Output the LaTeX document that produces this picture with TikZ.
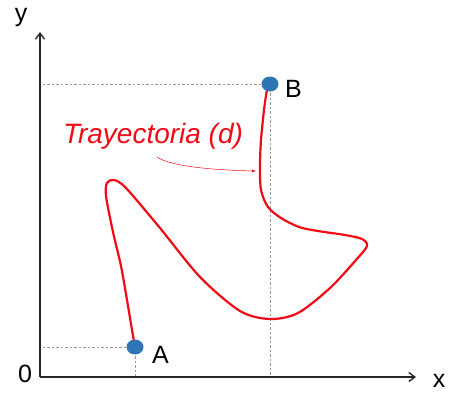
\documentclass[tikz,border=0pt]{standalone}
\usepackage{fontspec}
\setmainfont{Liberation Sans}
\usetikzlibrary{arrows.meta,shapes.geometric}
\definecolor{dotblue}{RGB}{46,117,182}
\definecolor{curvered}{RGB}{240,10,20}
\begin{document}
\begin{tikzpicture}[x=1pt,y=-1pt,
  axis/.style={line width=1.6pt,color=black!85,-{Straight Barb[length=6pt,width=9pt,line width=1.4pt]}},
  guide/.style={gray!80,line width=0.7pt,dash pattern=on 2.5pt off 2pt},
  pathline/.style={curvered,line width=2.2pt,line join=round,line cap=round},
  pointdot/.style={ellipse,fill=dotblue,minimum width=17pt,minimum height=15pt,inner sep=0pt},
  lbl/.style={font=\fontsize{25}{25}\selectfont,inner sep=0pt},
  pointer/.style={curvered,line width=0.5pt,-{Latex[length=4pt,width=3pt]}}]
\useasboundingbox (0,0) rectangle (454,392);
\coordinate (O) at (40,377);
\coordinate (ytip) at (40,32);
\coordinate (xtip) at (416,377);
\coordinate (pa) at (135,347);
\coordinate (pb) at (270,84);
\coordinate (hit) at (256,171);
% guides
\draw[guide] (pa) -- (pa -| O);
\draw[guide] (pa) -- (pa |- O);
\draw[guide] (pb) -- (pb -| O);
\draw[guide] (pb) -- (pb |- O);
% axes
\draw[axis] (O) -- (ytip);
\draw[axis] (O) -- (xtip);
% trajectory
\draw[pathline] plot[smooth,tension=0.5] coordinates {(pa) (132,330) (127,300) (121,266) (113,232) (106,196) (107,183) (114,180) (126,188) (160,228) (200,277) (240,311) (270,319) (298,313) (330,288) (356,260) (367,246) (362,239) (345,235) (318,231) (299,227) (281,218) (268,207) (261,190) (260,165) (261,140) (264,110) (267,90) (pb)};
% points
\node[pointdot] (A) at (pa) {};
\node[pointdot] (B) at (pb) {};
\node[lbl,anchor=west] (Alabel) at (152,355) {A};
\node[lbl,anchor=west] (Blabel) at (285,89) {B};
\node[lbl] (zero) at (25,374) {0};
\node[lbl] (xlabel) at (439,381) {x};
\node[lbl] (ylabel) at (21,17) {y};
% label
\node[font=\fontsize{28}{28}\selectfont\itshape,text=curvered,inner sep=0pt] (traj) at (153,136) {Trayectoria (d)};
\draw[pointer] (157,157) .. controls (170,166) and (210,170) .. (hit);
\end{tikzpicture}
\end{document}
